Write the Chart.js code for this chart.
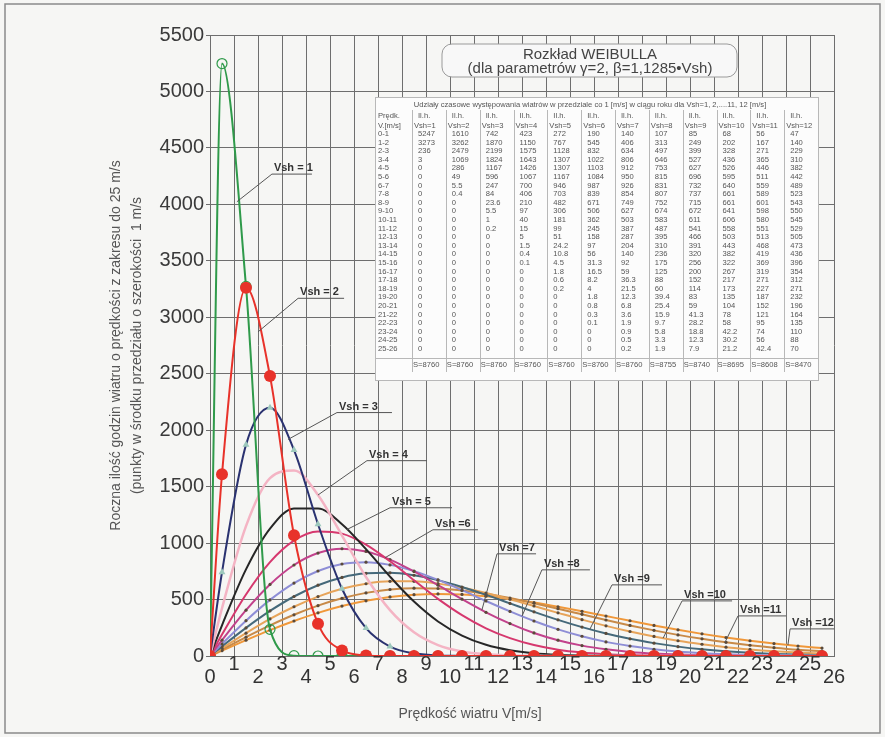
<!DOCTYPE html>
<html lang="pl">
<head>
<meta charset="utf-8">
<title>Rozkład Weibulla</title>
<script src="https://cdn.jsdelivr.net/npm/chart.js@4/dist/chart.umd.min.js"></script>
<style>
  html, body { margin: 0; padding: 0; background: #f6f6f4; }
  #wrap { position: relative; width: 885px; height: 737px; }
</style>
</head>
<body>
<div id="wrap"><canvas id="weibullChart" width="885" height="737"></canvas></div>
<script>
// middle of each 1 m/s bin (plus the origin where every curve starts)
var speedMid = [0, 0.5, 1.5, 2.5, 3.5, 4.5, 5.5, 6.5, 7.5, 8.5, 9.5, 10.5, 11.5, 12.5,
    13.5, 14.5, 15.5, 16.5, 17.5, 18.5, 19.5, 20.5, 21.5, 22.5, 23.5, 24.5, 25.5];
var rangeLabels = ['0-1', '1-2', '2-3', '3-4', '4-5', '5-6', '6-7', '7-8', '8-9', '9-10',
    '10-11', '11-12', '12-13', '13-14', '14-15', '15-16', '16-17', '17-18', '18-19',
    '19-20', '20-21', '21-22', '22-23', '23-24', '24-25', '25-26'];

// hours per year in each bin, for Vsh = 1 .. 12 (first value = origin)
var vsh1 = [0, 5247, 3273, 236, 3, 0, 0, 0, 0, 0, 0, 0, 0, 0, 0, 0, 0, 0, 0, 0, 0, 0, 0, 0, 0, 0, 0];
var vsh2 = [0, 1610, 3262, 2479, 1069, 286, 49, 5.5, 0.4, 0, 0, 0, 0, 0, 0, 0, 0, 0, 0, 0, 0, 0, 0, 0, 0, 0, 0];
var vsh3 = [0, 742, 1870, 2199, 1824, 1167, 596, 247, 84, 23.6, 5.5, 1, 0.2, 0, 0, 0, 0, 0, 0, 0, 0, 0, 0, 0, 0, 0, 0];
var vsh4 = [0, 423, 1150, 1575, 1643, 1426, 1067, 700, 406, 210, 97, 40, 15, 5, 1.5, 0.4, 0.1, 0, 0, 0, 0, 0, 0, 0, 0, 0, 0];
var vsh5 = [0, 272, 767, 1128, 1307, 1307, 1167, 946, 703, 482, 306, 181, 99, 51, 24.2, 10.8, 4.5, 1.8, 0.6, 0.2, 0, 0, 0, 0, 0, 0, 0];
var vsh6 = [0, 190, 545, 832, 1022, 1103, 1084, 987, 839, 671, 506, 362, 245, 158, 97, 56, 31.3, 16.5, 8.2, 4, 1.8, 0.8, 0.3, 0.1, 0, 0, 0];
var vsh7 = [0, 140, 406, 634, 806, 912, 950, 926, 854, 749, 627, 503, 387, 287, 204, 140, 92, 59, 36.3, 21.5, 12.3, 6.8, 3.6, 1.9, 0.9, 0.5, 0.2];
var vsh8 = [0, 107, 313, 497, 646, 753, 815, 831, 807, 752, 674, 583, 487, 395, 310, 236, 175, 125, 88, 60, 39.4, 25.4, 15.9, 9.7, 5.8, 3.3, 1.9];
var vsh9 = [0, 85, 249, 399, 527, 627, 696, 732, 737, 715, 672, 611, 541, 466, 391, 320, 256, 200, 152, 114, 83, 59, 41.3, 28.2, 18.8, 12.3, 7.9];
var vsh10 = [0, 68, 202, 328, 436, 526, 595, 640, 661, 661, 641, 606, 558, 503, 443, 382, 322, 267, 217, 173, 135, 104, 78, 58, 42.2, 30.2, 21.2];
var vsh11 = [0, 56, 167, 271, 365, 446, 511, 559, 589, 601, 598, 580, 551, 513, 468, 419, 369, 319, 271, 227, 187, 152, 121, 95, 74, 56, 42.4];
var vsh12 = [0, 47, 140, 229, 310, 382, 442, 489, 523, 543, 550, 545, 529, 505, 473, 436, 396, 354, 312, 271, 232, 196, 164, 135, 110, 88, 70];
var sums = [8760, 8760, 8760, 8760, 8760, 8760, 8760, 8755, 8740, 8695, 8608, 8470];

var allSeries = [vsh1, vsh2, vsh3, vsh4, vsh5, vsh6, vsh7, vsh8, vsh9, vsh10, vsh11, vsh12];
var colHeads = ['Vsh=1', 'Vsh=2', 'Vsh=3', 'Vsh=4', 'Vsh=5', 'Vsh=6', 'Vsh=7', 'Vsh=8',
    'Vsh=9', 'Vsh=10', 'Vsh=11', 'Vsh=12'];

// look of each curve
var lineColors = ['#2f9a4a', '#e8322a', '#2a3270', '#f4b4c4', '#262626', '#d6386e',
    '#c2428c', '#8e8ed6', '#45697a', '#e7a45a', '#c88a48', '#f0983a'];

// curve tags: text, where the tag sits (x, value) and where its leader meets the curve (x)
var curveTags = [
    {s: 0, text: 'Vsh = 1', at: [2.58, 4268], to: 1.12, len: 40},
    {s: 1, text: 'Vsh = 2', at: [3.67, 3168], to: 2.0, len: 46},
    {s: 2, text: 'Vsh = 3', at: [5.29, 2156], to: 3.25, len: 55},
    {s: 3, text: 'Vsh = 4', at: [6.54, 1730], to: 4.5, len: 60},
    {s: 4, text: 'Vsh = 5', at: [7.5, 1313], to: 5.71, len: 62},
    {s: 5, text: 'Vsh =6', at: [9.29, 1118], to: 7.29, len: 45},
    {s: 6, text: 'Vsh =7', at: [11.96, 905], to: 11.33, len: 39},
    {s: 7, text: 'Vsh =8', at: [13.83, 763], to: 13.0, len: 48},
    {s: 8, text: 'Vsh =9', at: [16.75, 630], to: 15.83, len: 50},
    {s: 9, text: 'Vsh =10', at: [19.67, 488], to: 18.88, len: 50},
    {s: 10, text: 'Vsh =11', at: [22.0, 355], to: 21.46, len: 48},
    {s: 11, text: 'Vsh =12', at: [24.17, 240], to: 24.08, len: 44}
];

function valueAt(arr, xv) {
    for (var i = 1; i < speedMid.length; i++) {
        if (xv <= speedMid[i]) {
            var t = (xv - speedMid[i - 1]) / (speedMid[i] - speedMid[i - 1]);
            return arr[i - 1] + t * (arr[i] - arr[i - 1]);
        }
    }
    return arr[arr.length - 1];
}

function makeDataset(idx) {
    var pts = speedMid.map(function(x, i) { return {x: x, y: allSeries[idx][i]}; });
    var ds = {
        label: 'Vsh=' + (idx + 1),
        data: pts,
        borderColor: lineColors[idx],
        backgroundColor: lineColors[idx],
        borderWidth: 2,
        pointRadius: 1.6,
        pointBorderWidth: 0,
        pointBackgroundColor: '#5a4a3a',
        cubicInterpolationMode: 'monotone',
        fill: false,
        order: idx + 2
    };
    if (idx === 0) { // hollow circles
        ds.pointRadius = 5;
        ds.pointBorderWidth = 1.2;
        ds.pointBorderColor = lineColors[0];
        ds.pointBackgroundColor = 'rgba(255,255,255,0)';
        ds.order = 1;
    }
    if (idx === 1) { // big red dots, on top of everything
        ds.pointRadius = 6;
        ds.pointBackgroundColor = lineColors[1];
        ds.order = 0;
    }
    if (idx === 2) {
        ds.pointStyle = 'triangle';
        ds.pointRadius = 4;
        ds.pointBackgroundColor = '#9cc8bc';
    }
    if (idx === 3) {
        ds.borderWidth = 2.5;
        ds.pointRadius = 0;
    }
    if (idx === 4 || idx === 5) ds.pointRadius = 0;
    return ds;
}

var overlayPlugin = {
    id: 'weibullOverlay',
    afterDraw: function(chart) {
        var ctx = chart.ctx;
        var xs = chart.scales.x, ys = chart.scales.y;
        ctx.save();

        // outer frame of the sheet
        ctx.strokeStyle = '#8a8a8a';
        ctx.lineWidth = 1.5;
        ctx.strokeRect(5, 4, 875, 729);

        // x axis title, sits left of the plot centre in the original
        ctx.fillStyle = '#555';
        ctx.textAlign = 'center';
        ctx.textBaseline = 'middle';
        ctx.font = '14px Arial, "Liberation Sans", sans-serif';
        ctx.fillText('Prędkość wiatru V[m/s]', 470, 714);

        // title box
        ctx.beginPath();
        ctx.roundRect(442, 44, 295, 33, 10);
        ctx.fillStyle = '#f8f8f8';
        ctx.fill();
        ctx.strokeStyle = '#9a9a9a';
        ctx.lineWidth = 1;
        ctx.stroke();
        ctx.fillStyle = '#444';
        ctx.font = '15px Arial, "Liberation Sans", sans-serif';
        ctx.fillText('Rozkład WEIBULLA', 590, 55);
        ctx.fillText('(dla parametrów \u03b3=2, \u03b2=1,1285\u2022Vsh)', 590, 69);

        // table of hours
        var L = 375, T = 97, R = 818, B = 380, c0 = 412, cw = (R - c0) / 12;
        var row0 = 134, rh = 8.6;
        ctx.fillStyle = '#fcfcfc';
        ctx.fillRect(L, T, R - L, B - T);
        ctx.strokeStyle = '#b8b8b8';
        ctx.strokeRect(L + 0.5, T + 0.5, R - L, B - T);
        ctx.beginPath();
        for (var c = 0; c <= 12; c++) {
            var lx = Math.round(c0 + c * cw) + 0.5;
            ctx.moveTo(lx, 110);
            ctx.lineTo(lx, c === 12 ? B : 372);
        }
        ctx.moveTo(L, 358.5); ctx.lineTo(R, 358.5);
        ctx.stroke();

        ctx.fillStyle = '#555';
        ctx.textAlign = 'center';
        ctx.font = '7.6px Arial, sans-serif';
        ctx.fillText('Udziały czasowe występowania wiatrów w przedziale co 1 [m/s] w ciągu roku dla Vsh=1, 2,....11, 12 [m/s]', 590, 105, 404);
        ctx.textAlign = 'left';
        ctx.fillText('Prędk.', 378, 116);
        ctx.fillText('V.[m/s]', 378, 126);
        for (var k = 0; k < 12; k++) {
            var cx = c0 + k * cw;
            ctx.fillText('Il.h.', cx + 6, 116);
            ctx.fillText(colHeads[k], cx + 2, 126);
            for (var r = 0; r < rangeLabels.length; r++) {
                ctx.fillText(String(allSeries[k][r + 1]), cx + 6, row0 + r * rh);
            }
            ctx.fillText('S=' + sums[k], cx + 1, 365, cw - 2);
        }
        for (var r2 = 0; r2 < rangeLabels.length; r2++) {
            ctx.fillText(rangeLabels[r2], 378, row0 + r2 * rh);
        }

        // curve tags with leader lines
        ctx.font = 'bold 11px Arial, sans-serif';
        ctx.textAlign = 'left';
        ctx.textBaseline = 'alphabetic';
        curveTags.forEach(function(tag) {
            var px = xs.getPixelForValue(tag.at[0]);
            var py = ys.getPixelForValue(tag.at[1]);
            var ex = xs.getPixelForValue(tag.to);
            var ey = ys.getPixelForValue(valueAt(allSeries[tag.s], tag.to));
            ctx.strokeStyle = '#555';
            ctx.lineWidth = 1;
            ctx.beginPath();
            ctx.moveTo(ex, ey);
            ctx.lineTo(px, py);
            ctx.lineTo(px + tag.len, py);
            ctx.stroke();
            ctx.fillStyle = '#333';
            ctx.fillText(tag.text, px + 2, py - 3);
        });
        ctx.restore();
    }
};

var ctx = document.getElementById('weibullChart').getContext('2d');
var weibullChart = new Chart(ctx, {
    type: 'line',
    data: {
        datasets: allSeries.map(function(s, i) { return makeDataset(i); })
    },
    options: {
        responsive: false,
        animation: false,
        layout: {padding: {left: 0, right: 51, top: 35, bottom: 0}},
        plugins: {
            legend: {display: false},
            tooltip: {enabled: false}
        },
        scales: {
            x: {
                type: 'linear',
                min: 0,
                max: 26,
                afterFit: function(scale) { scale.height = 81; },
                grid: {color: '#6e6e6e', lineWidth: 1, drawTicks: false},
                border: {color: '#6e6e6e'},
                ticks: {
                    stepSize: 1,
                    autoSkip: false,
                    maxRotation: 0,
                    padding: 2,
                    color: '#333',
                    font: {family: 'Arial, "Liberation Sans", sans-serif', size: 20, lineHeight: 0.65},
                    callback: function(v) { return v % 2 ? String(v) : ['', String(v)]; }
                }
            },
            y: {
                min: 0,
                max: 5500,
                afterFit: function(scale) { scale.width = 210; },
                grid: {color: '#6e6e6e', lineWidth: 1, tickLength: 4},
                border: {color: '#6e6e6e'},
                ticks: {
                    stepSize: 500,
                    padding: 2,
                    color: '#3a3a3a',
                    font: {family: 'Arial, "Liberation Sans", sans-serif', size: 20},
                    callback: function(v) { return String(v); }
                },
                title: {
                    display: true,
                    text: ['Roczna ilość godzin wiatru o prędkości z zakresu do 25 m/s',
                        '(punkty w środku przedziału o szerokości  1 m/s'],
                    color: '#555',
                    font: {family: 'Arial, sans-serif', size: 14, lineHeight: 1.5},
                    padding: {top: 106, bottom: 0}
                }
            }
        }
    },
    plugins: [overlayPlugin]
});
</script>
</body>
</html>
